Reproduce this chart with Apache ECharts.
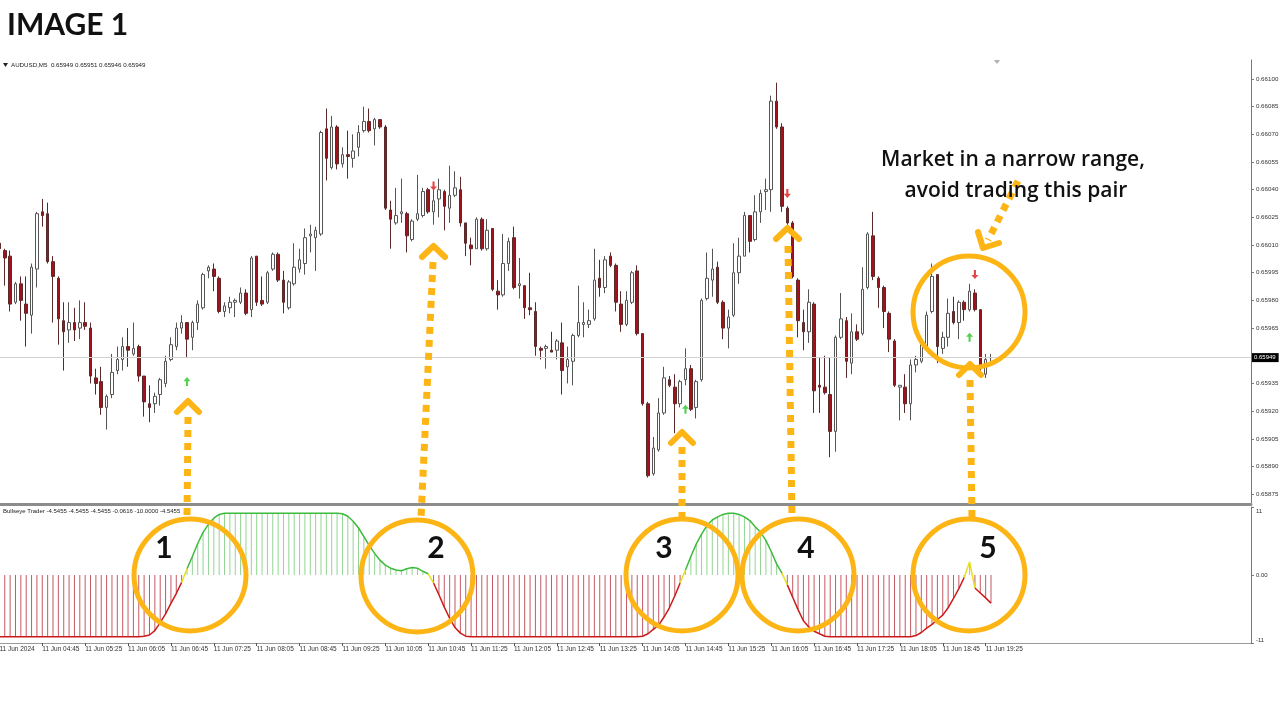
<!DOCTYPE html>
<html><head><meta charset="utf-8">
<script src="https://cdn.jsdelivr.net/npm/echarts@6/dist/echarts.min.js"></script>
<style>html,body{margin:0;padding:0;background:#fff}#c{width:1280px;height:720px}</style>
</head><body><div id="c"></div>
<script>
// ---- data (AUDUSD M5, 11 Jun 2024) ----
const opens = [0.66011,0.66007,0.66004,0.65979,0.65989,0.65978,0.65972,0.65997,0.66028,0.66027,
0.66001,0.65992,0.65969,0.65964,0.65968,0.65965,0.65968,0.65965,0.65938,0.65936,
0.65922,0.65929,0.65942,0.65948,0.65955,0.65951,0.65955,0.65939,0.65924,0.65924,
0.65929,0.65935,0.65948,0.65955,0.65965,0.65968,0.65960,0.65968,0.65976,0.65996,
0.65997,0.65992,0.65974,0.65976,0.65979,0.65979,0.65984,0.65975,0.66004,0.65980,
0.65979,0.65997,0.66005,0.65991,0.65976,0.65989,0.65997,0.66000,0.66015,0.66014,
0.66016,0.66073,0.66052,0.66074,0.66054,0.66059,0.66057,0.66063,0.66072,0.66077,
0.66073,0.66078,0.66074,0.66029,0.66022,0.66027,0.66027,0.66013,0.66024,0.66026,
0.66040,0.66028,0.66035,0.66039,0.66030,0.66037,0.66040,0.66022,0.66010,0.66008,
0.66024,0.66008,0.66019,0.65985,0.65983,0.66000,0.66014,0.65988,0.65988,0.65976,
0.65974,0.65954,0.65954,0.65953,0.65953,0.65957,0.65944,0.65947,0.65961,0.65967,
0.65967,0.65970,0.65992,0.65987,0.66004,0.65999,0.65978,0.65967,0.65979,0.65996,
0.65962,0.65924,0.65886,0.65899,0.65919,0.65937,0.65933,0.65924,0.65937,0.65943,
0.65922,0.65937,0.65981,0.65991,0.65998,0.65979,0.65965,0.65972,0.65995,0.66004,
0.66026,0.66013,0.66028,0.66039,0.66040,0.66088,0.66074,0.66030,0.66022,0.65991,
0.65968,0.65963,0.65978,0.65934,0.65933,0.65929,0.65909,0.65960,0.65969,0.65946,
0.65963,0.65962,0.65987,0.66015,0.65992,0.65987,0.65973,0.65958,0.65933,0.65933,
0.65924,0.65945,0.65947,0.65955,0.65974,0.65994,0.65954,0.65960,0.65974,0.65968,
0.65979,0.65975,0.65984,0.65975,0.65940,0.65949];
const highs = [0.66014,0.66008,0.66007,0.65990,0.65993,0.65993,0.66000,0.66028,0.66035,0.66033,
0.66004,0.65993,0.65979,0.65979,0.65976,0.65980,0.65979,0.65968,0.65943,0.65944,
0.65929,0.65951,0.65955,0.65960,0.65965,0.65968,0.65956,0.65939,0.65934,0.65930,
0.65938,0.65950,0.65960,0.65968,0.65972,0.65968,0.65969,0.65980,0.65995,0.65999,
0.66000,0.65993,0.65979,0.65982,0.65981,0.65987,0.65986,0.66004,0.66004,0.65993,
0.65996,0.66006,0.66006,0.65996,0.65991,0.66011,0.66008,0.66019,0.66021,0.66020,
0.66072,0.66084,0.66080,0.66075,0.66063,0.66072,0.66070,0.66075,0.66085,0.66084,
0.66079,0.66078,0.66075,0.66034,0.66041,0.66046,0.66028,0.66024,0.66048,0.66041,
0.66041,0.66040,0.66046,0.66040,0.66053,0.66050,0.66047,0.66022,0.66014,0.66025,
0.66025,0.66024,0.66019,0.65991,0.66016,0.66014,0.66020,0.66003,0.65988,0.65995,
0.65979,0.65955,0.65956,0.65963,0.65959,0.65968,0.65955,0.65962,0.65988,0.65979,
0.65975,0.66008,0.66002,0.66004,0.66006,0.66000,0.65985,0.65985,0.65996,0.65999,
0.65962,0.65925,0.65906,0.65927,0.65944,0.65939,0.65940,0.65937,0.65954,0.65945,
0.65937,0.65981,0.66006,0.66008,0.66001,0.65980,0.65975,0.66011,0.66014,0.66028,
0.66026,0.66037,0.66040,0.66046,0.66091,0.66098,0.66076,0.66031,0.66023,0.65992,
0.65975,0.65986,0.65979,0.65949,0.65950,0.65949,0.65961,0.65984,0.65971,0.65973,
0.65967,0.65998,0.66017,0.66028,0.65993,0.65988,0.65974,0.65959,0.65934,0.65940,
0.65948,0.65950,0.65959,0.65974,0.66000,0.65994,0.65963,0.65981,0.65982,0.65980,
0.65980,0.65989,0.65986,0.65975,0.65951,0.65951];
const lows = [0.66006,0.65988,0.65974,0.65978,0.65969,0.65955,0.65962,0.65987,0.66020,0.66000,
0.65968,0.65956,0.65942,0.65957,0.65958,0.65959,0.65964,0.65935,0.65929,0.65918,
0.65910,0.65927,0.65940,0.65942,0.65944,0.65950,0.65936,0.65917,0.65914,0.65919,
0.65923,0.65933,0.65947,0.65953,0.65962,0.65949,0.65953,0.65964,0.65975,0.65992,
0.65985,0.65973,0.65971,0.65973,0.65971,0.65978,0.65972,0.65971,0.65977,0.65977,
0.65978,0.65996,0.65990,0.65973,0.65975,0.65988,0.65995,0.65994,0.66006,0.65996,
0.66015,0.66045,0.66051,0.66051,0.66052,0.66046,0.66052,0.66058,0.66071,0.66071,
0.66064,0.66073,0.66029,0.66008,0.66021,0.66022,0.66006,0.66012,0.66023,0.66025,
0.66027,0.66021,0.66025,0.66018,0.66022,0.66036,0.66020,0.66004,0.65999,0.66008,
0.66007,0.66007,0.65985,0.65975,0.65982,0.65996,0.65986,0.65981,0.65970,0.65972,
0.65950,0.65948,0.65943,0.65952,0.65948,0.65929,0.65935,0.65934,0.65960,0.65960,
0.65965,0.65969,0.65982,0.65984,0.65998,0.65974,0.65963,0.65966,0.65978,0.65961,
0.65923,0.65884,0.65885,0.65898,0.65918,0.65933,0.65908,0.65922,0.65934,0.65920,
0.65916,0.65936,0.65980,0.65982,0.65978,0.65959,0.65954,0.65971,0.65989,0.66004,
0.66006,0.66012,0.66022,0.66029,0.66028,0.66073,0.66028,0.66021,0.65992,0.65960,
0.65953,0.65957,0.65919,0.65919,0.65929,0.65895,0.65898,0.65959,0.65938,0.65940,
0.65958,0.65961,0.65986,0.65991,0.65976,0.65965,0.65952,0.65933,0.65915,0.65919,
0.65915,0.65941,0.65946,0.65954,0.65973,0.65946,0.65951,0.65955,0.65967,0.65959,
0.65969,0.65974,0.65974,0.65942,0.65938,0.65946];
const closes = [0.66008,0.66003,0.65978,0.65989,0.65980,0.65973,0.65998,0.66027,0.66026,0.66001,
0.65993,0.65970,0.65963,0.65968,0.65964,0.65968,0.65966,0.65939,0.65935,0.65922,
0.65928,0.65941,0.65948,0.65955,0.65953,0.65954,0.65939,0.65925,0.65922,0.65928,
0.65937,0.65947,0.65956,0.65965,0.65968,0.65959,0.65968,0.65978,0.65994,0.65998,
0.65993,0.65974,0.65977,0.65979,0.65980,0.65984,0.65973,0.66003,0.65979,0.65978,
0.65995,0.66005,0.65991,0.65979,0.65990,0.65998,0.66002,0.66014,0.66016,0.66018,
0.66071,0.66057,0.66074,0.66054,0.66059,0.66058,0.66061,0.66071,0.66077,0.66072,
0.66078,0.66074,0.66030,0.66024,0.66026,0.66028,0.66015,0.66023,0.66027,0.66039,
0.66028,0.66034,0.66040,0.66031,0.66037,0.66041,0.66022,0.66011,0.66008,0.66024,
0.66008,0.66018,0.65986,0.65983,0.66000,0.66012,0.65987,0.65989,0.65976,0.65975,
0.65955,0.65953,0.65955,0.65952,0.65958,0.65942,0.65948,0.65961,0.65968,0.65968,
0.65969,0.65991,0.65987,0.66002,0.65999,0.65979,0.65967,0.65980,0.65995,0.65962,
0.65924,0.65885,0.65900,0.65919,0.65938,0.65934,0.65924,0.65936,0.65943,0.65921,
0.65936,0.65980,0.65992,0.65997,0.65979,0.65965,0.65971,0.65995,0.66004,0.66026,
0.66012,0.66028,0.66038,0.66040,0.66088,0.66074,0.66031,0.66022,0.65993,0.65969,
0.65963,0.65979,0.65931,0.65933,0.65930,0.65909,0.65960,0.65970,0.65947,0.65963,
0.65959,0.65986,0.66016,0.65993,0.65987,0.65974,0.65959,0.65934,0.65934,0.65924,
0.65945,0.65948,0.65956,0.65972,0.65993,0.65955,0.65960,0.65973,0.65968,0.65979,
0.65975,0.65985,0.65975,0.65943,0.65948,0.65949];
// Bullseye Trader oscillator, one value per bar
const bullseye = [-10,-10,-10,-10,-10,-10,-10,-10,-10,-10,-10,-10,-10,-10,-10,-10,-10,-10,-10,-10,-10,-10,-10,-10,-10,-10,
-10,-9.9,-9.7,-9.0,-7.7,-6.3,-4.6,-3.0,-1.2,1.0,3.0,5.1,6.9,8.2,9.2,9.8,
10,10,10,10,10,10,10,10,10,10,10,10,10,10,10,10,10,10,10,10,10,10,
9.9,9.5,8.7,7.6,6.2,4.8,3.5,2.4,1.6,1.1,0.8,0.7,1.0,1.2,1.1,0.6,0.2,-1.3,-3.2,-5.2,-7.0,-8.5,-9.4,-9.9,
-10,-10,-10,-10,-10,-10,-10,-10,-10,-10,-10,-10,-10,-10,-10,-10,-10,-10,-10,-10,-10,-10,-10,-10,-10,-10,-10,-10,-10,-10,-10,-10,
-9.9,-9.5,-8.8,-8.1,-6.8,-5.3,-3.4,-1.3,0.8,3.0,5.0,6.6,8.0,8.9,9.4,9.8,10,10,9.8,9.4,8.8,7.8,6.9,5.6,3.8,1.8,0.3,-1.6,-3.6,-5.6,-7.4,-8.4,-9.1,-9.5,-9.9,
-10,-10,-10,-10,-10,-10,-10,-10,-10,-10,-10,-10,-10,-10,-10,-10,
-9.8,-9.3,-8.6,-8.0,-7.2,-6.5,-5.3,-3.8,-2.2,-0.4,2.1,-2.1,-2.9,-3.7,-4.5455];
// signal arrows: [bar index, price]
const buySignals = [[35,0.65936],[128,0.65921],[181,0.65960]];
const sellSignals = [[81,0.66042],[147,0.66038],[182,0.65994]];
const priceTicks = [0.65875,0.65890,0.65905,0.65920,0.65935,0.65965,0.65980,0.65995,0.66010,0.66025,0.66040,0.66055,0.66070,0.66085,0.66100];
const oscTicks = [11, 0, -11];
const timeLabels = ['11 Jun 2024','11 Jun 04:45','11 Jun 05:25','11 Jun 06:05','11 Jun 06:45','11 Jun 07:25','11 Jun 08:05','11 Jun 08:45','11 Jun 09:25','11 Jun 10:05','11 Jun 10:45','11 Jun 11:25','11 Jun 12:05','11 Jun 12:45','11 Jun 13:25','11 Jun 14:05','11 Jun 14:45','11 Jun 15:25','11 Jun 16:05','11 Jun 16:45','11 Jun 17:25','11 Jun 18:05','11 Jun 18:45','11 Jun 19:25'];
const labelEvery = 8;
const headerText = 'AUDUSD,M5  0.65949 0.65951 0.65946 0.65949';
const oscHeader = 'Bullseye Trader -4.5455 -4.5455 -4.5455 -0.0616 -10.0000 -4.5455';

// ---- layout ----
const SLOTS = 234, BAR = 5.36, GL = -3.28, GW = SLOTS * BAR;
const n = opens.length;
const categories = Array.from({length: SLOTS}, (_, i) => {
  const m = 4 * 60 + 5 + 5 * i;
  return String(Math.floor(m / 60) % 24).padStart(2, '0') + ':' + String(m % 60).padStart(2, '0');
});
const showTime = (i) => i % labelEvery === 0 && i / labelEvery < timeLabels.length;

const candleData = opens.map((o, i) => [o, closes[i], lows[i], highs[i]]);
const hist = bullseye.map(v => ({value: v, itemStyle: {color: v < 0 ? '#c45a64' : '#93d493'}}));
const redLine = bullseye.map(v => v < 0 ? v : null);
const greenLine = bullseye.map(v => v > 0 ? v : null);
const yellowLine = bullseye.map((v, i) => {
  const s = Math.sign(v);
  const p = i > 0 ? Math.sign(bullseye[i - 1]) : s;
  const q = i < bullseye.length - 1 ? Math.sign(bullseye[i + 1]) : s;
  return (p !== s || q !== s) ? v : null;
});

const ORANGE = '#FDB515';
const FONT = 'Liberation Sans, Arial, sans-serif';
const ring = (cx, cy) => ({type: 'circle', z: 100, shape: {cx, cy, r: 56}, style: {fill: 'none', stroke: ORANGE, lineWidth: 5}});
const dots = (x1, y1, x2, y2) => ({type: 'line', z: 100, shape: {x1, y1, x2, y2}, style: {stroke: ORANGE, lineWidth: 7, lineDash: [7, 6], lineCap: 'butt'}});
const chev = (pts) => ({type: 'polyline', z: 101, shape: {points: pts}, style: {fill: 'none', stroke: ORANGE, lineWidth: 6, lineCap: 'round', lineJoin: 'round'}});
const num = (t, x, y) => ({type: 'text', z: 102, style: {text: t, x, y, fontSize: 30, fontWeight: 'bold', fontFamily: 'Lato', fill: '#111', align: 'center', verticalAlign: 'middle'}});

const chart = echarts.init(document.getElementById('c'));
chart.setOption({
  animation: false,
  backgroundColor: '#ffffff',
  grid: [
    {left: GL, top: 60, width: GW, height: 443, outerBoundsMode: 'none'},
    {left: GL, top: 507, width: GW, height: 136, outerBoundsMode: 'none'}
  ],
  xAxis: [
    {type: 'category', gridIndex: 0, data: categories, boundaryGap: true, offset: 1.5,
     axisLine: {show: true, onZero: false, lineStyle: {color: '#8c8c8c', width: 3}}, axisTick: {show: false}, axisLabel: {show: false}, splitLine: {show: false}},
    {type: 'category', gridIndex: 1, data: categories, boundaryGap: true,
     axisLine: {show: true, onZero: false, lineStyle: {color: '#9a9a9a', width: 1}},
     axisTick: {show: true, alignWithLabel: true, interval: (i) => showTime(i), length: 3, lineStyle: {color: '#555'}},
     axisLabel: {show: true, interval: (i) => showTime(i), formatter: (v, i) => timeLabels[i / labelEvery] || '',
       align: 'left', fontSize: 6.5, fontFamily: FONT, color: '#333', margin: 3},
     splitLine: {show: false}}
  ],
  yAxis: [
    {type: 'value', gridIndex: 0, position: 'right', min: 0.658702, max: 0.661103, scale: true,
     splitLine: {show: false},
     axisLine: {show: true, onZero: false, lineStyle: {color: '#777'}},
     axisTick: {show: true, length: 3, customValues: priceTicks, lineStyle: {color: '#777'}},
     axisLabel: {customValues: priceTicks, formatter: (v) => v.toFixed(5), fontSize: 6.2, fontFamily: FONT, color: '#333', margin: 5}},
    {type: 'value', gridIndex: 1, position: 'right', min: -11, max: 11,
     splitLine: {show: false},
     axisLine: {show: true, onZero: false, lineStyle: {color: '#777'}},
     axisTick: {show: true, length: 3, customValues: oscTicks, lineStyle: {color: '#777'}},
     axisLabel: {customValues: oscTicks, margin: 5,
       formatter: (v) => v > 0 ? '{t|' + v + '}' : v < 0 ? '{b|' + v + '}' : '{m|0.00}',
       rich: {
         t: {fontSize: 6, fontFamily: FONT, color: '#333', padding: [8, 0, 0, 0]},
         b: {fontSize: 6, fontFamily: FONT, color: '#333', padding: [0, 0, 6, 0]},
         m: {fontSize: 6, fontFamily: FONT, color: '#333'}
       }}}
  ],
  series: [
    {type: 'candlestick', xAxisIndex: 0, yAxisIndex: 0, data: candleData, barWidth: 3,
     itemStyle: {color: '#ffffff', color0: '#a3121b', borderColor: '#555555', borderColor0: '#5a2a2a', borderWidth: 1}},
    {type: 'scatter', xAxisIndex: 0, yAxisIndex: 0, data: buySignals, z: 5,
     symbol: 'path://M4,0 L8,4.5 L5.2,4.5 L5.2,10 L2.8,10 L2.8,4.5 L0,4.5 Z', symbolSize: [7, 9],
     itemStyle: {color: '#27c427'},
     markLine: {silent: true, symbol: ['none', 'none'], animation: false, precision: 5,
       lineStyle: {color: '#d2d2d2', width: 1, type: 'solid'},
       label: {position: 'end', distance: 1, formatter: (p) => Number(p.value).toFixed(5), backgroundColor: '#000', color: '#fff',
         fontSize: 6, fontFamily: FONT, padding: [2, 3, 1, 2]},
       data: [{yAxis: closes[n - 1]}]}},
    {type: 'scatter', xAxisIndex: 0, yAxisIndex: 0, data: sellSignals, z: 5,
     symbol: 'path://M2.8,0 L5.2,0 L5.2,5.5 L8,5.5 L4,10 L0,5.5 L2.8,5.5 Z', symbolSize: [7, 9],
     itemStyle: {color: '#e01515'}},
    {type: 'bar', xAxisIndex: 1, yAxisIndex: 1, data: hist, barWidth: 1, silent: true},
    {type: 'line', xAxisIndex: 1, yAxisIndex: 1, data: redLine, symbol: 'none', connectNulls: false,
     lineStyle: {color: '#cc1a1a', width: 1.5}, z: 3},
    {type: 'line', xAxisIndex: 1, yAxisIndex: 1, data: greenLine, symbol: 'none', connectNulls: false,
     lineStyle: {color: '#3cba3c', width: 1.5}, z: 3},
    {type: 'line', xAxisIndex: 1, yAxisIndex: 1, data: yellowLine, symbol: 'none', connectNulls: false,
     lineStyle: {color: '#e6e020', width: 1.5}, z: 4}
  ],
  graphic: [
    {type: 'text', z: 100, style: {text: 'IMAGE 1', x: 7, y: 25, fontSize: 30, fontWeight: 'bold', fontFamily: 'Lato', fill: '#111', verticalAlign: 'middle'}},
    {type: 'polygon', z: 100, shape: {points: [[3, 63], [8, 63], [5.5, 67]]}, style: {fill: '#222'}},
    {type: 'text', z: 100, style: {text: headerText, x: 11, y: 65.5, fontSize: 6.2, fontFamily: FONT, fill: '#222', verticalAlign: 'middle'}},
    {type: 'polygon', z: 100, shape: {points: [[994, 60], [1000, 60], [997, 64]]}, style: {fill: '#b0b0b0'}},
    {type: 'text', z: 100, style: {text: oscHeader, x: 3, y: 511, fontSize: 6, fontFamily: FONT, fill: '#222', verticalAlign: 'middle'}},
    ring(190, 575), ring(417, 576), ring(682, 575), ring(798, 575), ring(969, 575), ring(969, 312),
    dots(188, 417, 187, 518), chev([[177, 412], [188, 401], [199, 412]]),
    dots(433, 262, 421, 518), chev([[422, 257], [433.5, 246], [445, 257]]),
    dots(682, 447, 682, 518), chev([[671, 443], [682, 432], [693, 443]]),
    dots(788, 246, 792, 518), chev([[776, 239], [787.5, 228], [799, 239]]),
    dots(970, 380, 972, 518), chev([[959, 375], [970, 364], [981, 375]]),
    dots(1018, 181, 988, 240), chev([[978, 232], [983, 248], [999, 243]]),
    num('1', 164, 548), num('2', 436, 548), num('3', 664, 548), num('4', 806, 548), num('5', 988, 548),
    {type: 'text', z: 102, style: {text: 'Market in a narrow range,', x: 1013, y: 160, fontSize: 21, fontWeight: 600, fontFamily: 'Open Sans', fill: '#111', align: 'center', verticalAlign: 'middle'}},
    {type: 'text', z: 102, style: {text: 'avoid trading this pair', x: 1016, y: 191, fontSize: 21, fontWeight: 600, fontFamily: 'Open Sans', fill: '#111', align: 'center', verticalAlign: 'middle'}}
  ]
});
</script>
</body></html>
